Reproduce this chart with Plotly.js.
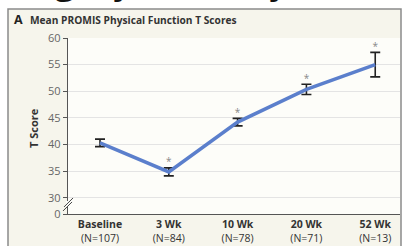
<!DOCTYPE html>
<html><head><meta charset="utf-8">
<script src="https://cdn.plot.ly/plotly-3.0.1.min.js"></script>
<style>html,body{margin:0;padding:0;background:#fff;}#chart{width:404px;height:246px;}</style>
</head><body><div id="chart"></div>
<script>
// Data
const categories = ["Baseline", "3 Wk", "10 Wk", "20 Wk", "52 Wk"];
const counts = ["N=107", "N=84", "N=78", "N=71", "N=13"];
const meanScores = [40.3, 34.85, 44.2, 50.35, 55.0];
const errors = [0.7, 0.75, 0.7, 0.95, 2.3];
const significant = [false, true, true, true, true];
const yTickValues = [30, 35, 40, 45, 50, 55, 60];
const yBreakValue = 26.94; // position of the "0" label below the axis break

const xIdx = categories.map((_, i) => i);
const tickText = categories.map((c, i) => "<b>" + c + "</b><br>(" + counts[i] + ")");

const lineTrace = {
  x: xIdx, y: meanScores, type: "scatter", mode: "lines",
  line: {color: "#5b7fcc", width: 3.5},
  error_y: {type: "data", array: errors, visible: true, color: "#222", thickness: 1.6, width: 5},
  hoverinfo: "skip", showlegend: false
};
const starX = [], starY = [];
xIdx.forEach(i => { if (significant[i]) { starX.push(i); starY.push(meanScores[i] + errors[i]); } });
const starTrace = {
  x: starX, y: starY, type: "scatter", mode: "text", text: starX.map(() => "*"),
  textposition: "top center", textfont: {family: "Open Sans, sans-serif", size: 10, color: "#888"},
  showlegend: false, hoverinfo: "skip"
};

const font = "Open Sans, Noto Sans, sans-serif";
// pixel helpers for decorative annotations (plot area: left 68, top 38, width 332, height 176)
const px = p => (p - 68) / 332;
const py = p => (214 - p) / 176;

const topGlyph = (t, x) => ({text: t, xref: "paper", yref: "paper", x: px(x), y: py(5.5),
  xanchor: "center", yanchor: "bottom", showarrow: false,
  font: {family: "Open Sans, sans-serif", size: 40, color: "#111"}});

const layout = {
  width: 404, height: 246,
  margin: {l: 68, r: 4, t: 38, b: 32, pad: 0},
  paper_bgcolor: "#ffffff", plot_bgcolor: "rgba(0,0,0,0)",
  font: {family: font, size: 11, color: "#444"},
  xaxis: {
    type: "linear", range: [-0.465, 4.36], tickvals: xIdx, ticktext: tickText,
    showgrid: false, zeroline: false, showline: true, linecolor: "#555", linewidth: 1.3,
    ticks: "", tickfont: {family: font, size: 10.5, color: "#333"}, fixedrange: true
  },
  yaxis: {
    range: [yBreakValue, 60], tickvals: [yBreakValue].concat(yTickValues),
    ticktext: ["0"].concat(yTickValues.map(String)),
    showgrid: true, gridcolor: "#e4e4e4", gridwidth: 1, zeroline: false,
    showline: true, linecolor: "#555", linewidth: 1.3, ticks: "outside", ticklen: 4,
    tickcolor: "#555", tickwidth: 1, tickfont: {family: font, size: 11, color: "#666"}, fixedrange: true
  },
  shapes: [
    {type: "rect", xref: "paper", yref: "paper", x0: px(8), x1: px(401), y0: -0.4, y1: py(9),
     fillcolor: "#f6f5ec", line: {width: 0}, layer: "below"},
    {type: "rect", xref: "paper", yref: "paper", x0: 0, x1: px(401), y0: 0, y1: 1,
     fillcolor: "#fdfdf9", line: {width: 0}, layer: "below"},
    {type: "rect", xref: "paper", yref: "paper", x0: px(8), x1: px(401), y0: -0.4, y1: py(9),
     line: {color: "#8a8a8a", width: 1.5}, fillcolor: "rgba(0,0,0,0)", layer: "above"},
    {type: "rect", xref: "paper", yref: "paper", xsizemode: "pixel", ysizemode: "pixel",
     xanchor: 0, yanchor: 0.057, x0: -2, x1: 2, y0: -3, y1: 3,
     fillcolor: "#fdfdf9", line: {width: 0}, layer: "above"},
    {type: "line", xref: "paper", yref: "paper", xsizemode: "pixel", ysizemode: "pixel",
     xanchor: 0, yanchor: 0.057, x0: -5, x1: 4, y0: -7, y1: 2,
     line: {color: "#444", width: 1}, layer: "above"},
    {type: "line", xref: "paper", yref: "paper", xsizemode: "pixel", ysizemode: "pixel",
     xanchor: 0, yanchor: 0.057, x0: -4, x1: 5, y0: -3, y1: 6,
     line: {color: "#444", width: 1}, layer: "above"}
  ],
  annotations: [
    {text: "<b>A</b>", xref: "paper", yref: "paper", x: px(12), y: py(20), xanchor: "left", yanchor: "middle",
     showarrow: false, font: {family: font, size: 12.5, color: "#222"}},
    {text: "<b>Mean PROMIS Physical Function T Scores</b>", xref: "paper", yref: "paper", x: px(28), y: py(20),
     xanchor: "left", yanchor: "middle", showarrow: false, font: {family: font, size: 10.2, color: "#333"}},
    {text: "<b>T Score</b>", xref: "paper", yref: "paper", x: px(33), y: py(128), textangle: -90,
     xanchor: "center", yanchor: "middle", showarrow: false, font: {family: font, size: 11, color: "#333"}},
    topGlyph("g", 65), topGlyph("y", 124), topGlyph("y", 280)
  ]
};
Plotly.newPlot("chart", [lineTrace, starTrace], layout, {displayModeBar: false, staticPlot: true});
</script></body></html>
